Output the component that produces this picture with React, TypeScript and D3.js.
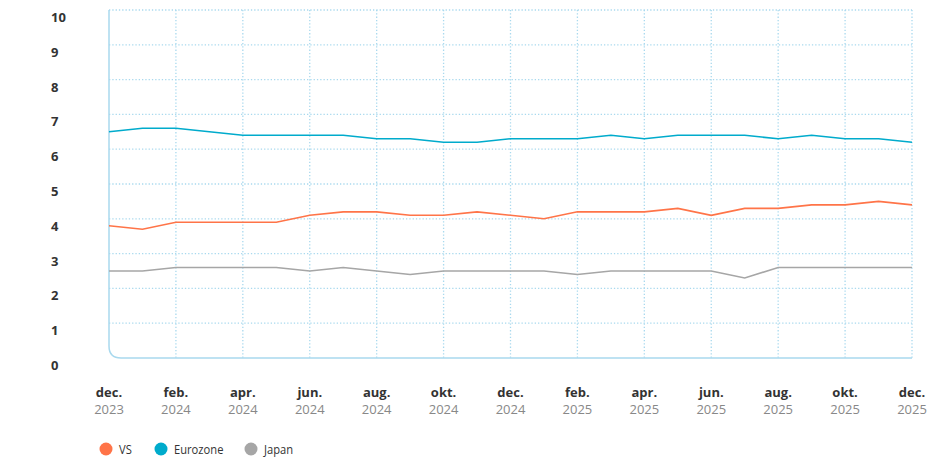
import * as d3 from 'd3';

const width = 937;
const height = 464;

const months = [
  'dec.', 'jan.', 'feb.', 'mrt.', 'apr.', 'mei', 'jun.', 'jul.', 'aug.', 'sep.', 'okt.', 'nov.',
  'dec.', 'jan.', 'feb.', 'mrt.', 'apr.', 'mei', 'jun.', 'jul.', 'aug.', 'sep.', 'okt.', 'nov.', 'dec.',
];
const years = [
  '2023', '2024', '2024', '2024', '2024', '2024', '2024', '2024', '2024', '2024', '2024', '2024',
  '2024', '2025', '2025', '2025', '2025', '2025', '2025', '2025', '2025', '2025', '2025', '2025', '2025',
];

const vs = [3.8, 3.7, 3.9, 3.9, 3.9, 3.9, 4.1, 4.2, 4.2, 4.1, 4.1, 4.2, 4.1, 4.0, 4.2, 4.2, 4.2, 4.3, 4.1, 4.3, 4.3, 4.4, 4.4, 4.5, 4.4];
const eurozone = [6.5, 6.6, 6.6, 6.5, 6.4, 6.4, 6.4, 6.4, 6.3, 6.3, 6.2, 6.2, 6.3, 6.3, 6.3, 6.4, 6.3, 6.4, 6.4, 6.4, 6.3, 6.4, 6.3, 6.3, 6.2];
const japan = [2.5, 2.5, 2.6, 2.6, 2.6, 2.6, 2.5, 2.6, 2.5, 2.4, 2.5, 2.5, 2.5, 2.5, 2.4, 2.5, 2.5, 2.5, 2.5, 2.3, 2.6, 2.6, 2.6, 2.6, 2.6];

const yTicks = [0, 1, 2, 3, 4, 5, 6, 7, 8, 9, 10];

const series = [
  {name: 'VS', values: vs, color: '#ff7448'},
  {name: 'Eurozone', values: eurozone, color: '#00abcc'},
  {name: 'Japan', values: japan, color: '#a6a6a6'},
];

const margin = {left: 109, right: 25, top: 10, bottom: 106};
const gridColor = '#a9d9ee';
const font = '"Open Sans", "Noto Sans", sans-serif';

export default function App() {
  const x = d3
    .scaleLinear()
    .domain([0, months.length - 1])
    .range([margin.left, width - margin.right]);
  const y = d3
    .scaleLinear()
    .domain([0, 10])
    .range([height - margin.bottom, margin.top]);

  const line = d3
    .line<number>()
    .x((d, i) => x(i))
    .y(d => y(d));

  const x0 = x(0);
  const x1 = x(months.length - 1);
  const y0 = y(0);
  const r = 12;
  const labelIdx = months.map((m, i) => i).filter(i => i % 2 === 0);

  const legendX = [106, 161, 251];

  return (
    <svg
      width={width}
      height={height}
      style={{position: 'absolute', left: 0, top: 0, background: '#fff'}}
    >
      {/* horizontal grid */}
      {yTicks.filter(t => t > 0).map(t => (
        <line
          key={'h' + t}
          x1={x0}
          x2={x1}
          y1={y(t)}
          y2={y(t)}
          stroke={gridColor}
          strokeWidth={1.3}
          strokeDasharray="1.3 2"
        />
      ))}
      {/* vertical grid */}
      {labelIdx.filter(i => i > 0).map(i => (
        <line
          key={'v' + i}
          x1={x(i)}
          x2={x(i)}
          y1={y(10)}
          y2={y0}
          stroke={gridColor}
          strokeWidth={1.3}
          strokeDasharray="1.3 2"
        />
      ))}
      {/* axis with rounded corner */}
      <path
        d={`M${x0},${y(10)} L${x0},${y0 - r} Q${x0},${y0} ${x0 + r},${y0} L${x1},${y0}`}
        fill="none"
        stroke={gridColor}
        strokeWidth={1.5}
      />

      {yTicks.map(t => (
        <text
          key={'yl' + t}
          x={51}
          y={y(t) + 7.5}
          dy="0.35em"
          fontFamily={font}
          fontSize={13}
          fontWeight={700}
          fill="#333"
        >
          {t}
        </text>
      ))}

      {labelIdx.map(i => (
        <g key={'xl' + i} transform={`translate(${x(i)},0)`}>
          <text
            y={392}
            dy="0.35em"
            textAnchor="middle"
            fontFamily={font}
            fontSize={13}
            fontWeight={700}
            fill="#333"
          >
            {months[i]}
          </text>
          <text
            y={409}
            dy="0.35em"
            textAnchor="middle"
            fontFamily={font}
            fontSize={13}
            fill="#888"
          >
            {years[i]}
          </text>
        </g>
      ))}

      {series.map(s => (
        <path
          key={s.name}
          d={line(s.values) || ''}
          fill="none"
          stroke={s.color}
          strokeWidth={1.6}
        />
      ))}

      {series.map((s, i) => (
        <g key={'lg' + s.name} transform={`translate(${legendX[i]},449)`}>
          <circle r={6.5} fill={s.color} />
          {/* condensed look, like the original legend font */}
          <text
            transform="translate(13,0) scale(0.86,1)"
            dy="0.35em"
            fontFamily={font}
            fontSize={13}
            fill="#333"
          >
            {s.name}
          </text>
        </g>
      ))}
    </svg>
  );
}
